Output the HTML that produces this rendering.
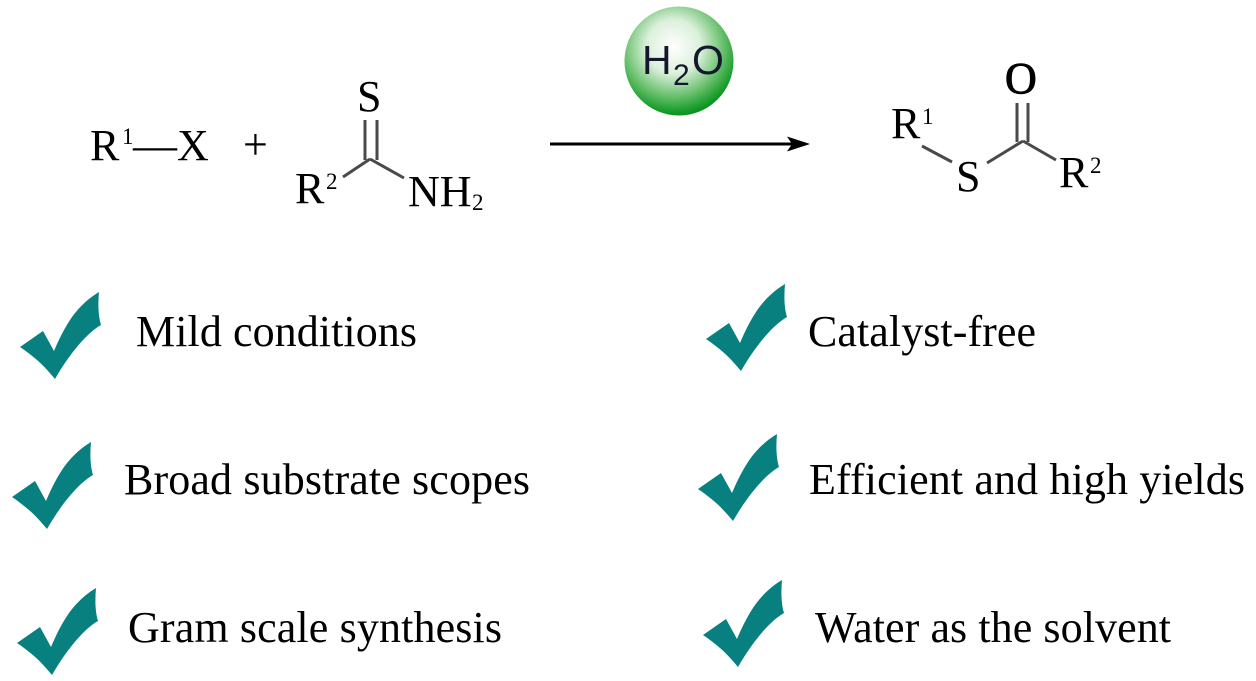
<!DOCTYPE html>
<html><head><meta charset="utf-8">
<style>
html,body{margin:0;padding:0;background:#fff}
svg{display:block}
text{font-family:"Liberation Serif",serif;fill:#000}
.l{font-size:44px}
.c{font-size:44px}
.s{font-size:23px}
.w{font-family:"Liberation Sans",sans-serif;fill:#14182c;font-size:41px}
</style></head>
<body>
<svg width="1256" height="681" viewBox="0 0 1256 681" xmlns="http://www.w3.org/2000/svg">
<defs>
<radialGradient id="g" cx="0.45" cy="0.37" r="0.65">
<stop offset="0" stop-color="#ffffff"/>
<stop offset="0.38" stop-color="#dcf0dc"/>
<stop offset="0.7" stop-color="#68c06c"/>
<stop offset="0.93" stop-color="#129a26"/>
<stop offset="1" stop-color="#0c8a20"/>
</radialGradient>
<path id="k" fill="#088080" d="M20 347 L43 331 L54 351 C59 339 65 327 72 317 C80 306 89 298 99 292 C98 303 98 315 101 325 C87 333 70 353 55 379 C49 372 43 365 37 360 C31 355 26 351 20 347 Z"/>
</defs>

<!-- left reactant -->
<text class="c" x="90" y="160">R</text>
<text class="s" x="122" y="144">1</text>
<text class="c" x="133" y="160">—X</text>
<text class="c" x="243" y="159">+</text>

<!-- thioamide -->
<text class="c" x="357" y="111">S</text>
<g stroke="#4a4a4a" stroke-width="3" fill="none">
<line x1="365" y1="120" x2="365" y2="160"/>
<line x1="377" y1="120" x2="377" y2="160"/>
<line x1="343" y1="177" x2="370" y2="159"/>
<line x1="370" y1="159" x2="404" y2="178"/>
</g>
<text class="c" x="295" y="203">R</text>
<text class="s" x="326" y="189">2</text>
<text class="c" x="408" y="206">NH</text>
<text class="s" x="472" y="210">2</text>

<!-- arrow -->
<line x1="550" y1="144" x2="795" y2="144" stroke="#000" stroke-width="3"/>
<path d="M810 144 L787 136.500 L792 144 L787 151.500 Z" fill="#000"/>

<!-- water -->
<circle cx="679" cy="61" r="54.500" fill="url(#g)"/>
<text class="w" x="642" y="74">H</text>
<text class="w" x="673" y="85" style="font-size:30px">2</text>
<text class="w" x="692" y="74">O</text>

<!-- thioester -->
<text class="c" x="1005" y="93" stroke="#000" stroke-width="1">O</text>
<g stroke="#4a4a4a" stroke-width="3" fill="none">
<line x1="1017" y1="103" x2="1017" y2="142"/>
<line x1="1028" y1="103" x2="1028" y2="142"/>
<line x1="987" y1="163" x2="1023" y2="141"/>
<line x1="1023" y1="141" x2="1056" y2="160"/>
<line x1="922" y1="146" x2="952" y2="162"/>
</g>
<text class="c" x="891" y="138">R</text>
<text class="s" x="922" y="124">1</text>
<text class="c" x="956" y="191">S</text>
<text class="c" x="1059" y="187">R</text>
<text class="s" x="1090" y="173">2</text>

<!-- checks -->
<use href="#k"/>
<use href="#k" transform="translate(-8,150)"/>
<use href="#k" transform="translate(-3,296)"/>
<use href="#k" transform="translate(686,-8)"/>
<use href="#k" transform="translate(678,142)"/>
<use href="#k" transform="translate(683,288)"/>

<!-- labels -->
<text class="l" x="136" y="346" textLength="281" lengthAdjust="spacing">Mild conditions</text>
<text class="l" x="124" y="494" textLength="406" lengthAdjust="spacing">Broad substrate scopes</text>
<text class="l" x="128" y="642" textLength="374" lengthAdjust="spacing">Gram scale synthesis</text>
<text class="l" x="808" y="346" textLength="228" lengthAdjust="spacing">Catalyst-free</text>
<text class="l" x="809" y="494" textLength="436" lengthAdjust="spacing">Efficient and high yields</text>
<text class="l" x="815" y="642" textLength="356" lengthAdjust="spacing">Water as the solvent</text>
</svg>
</body></html>
